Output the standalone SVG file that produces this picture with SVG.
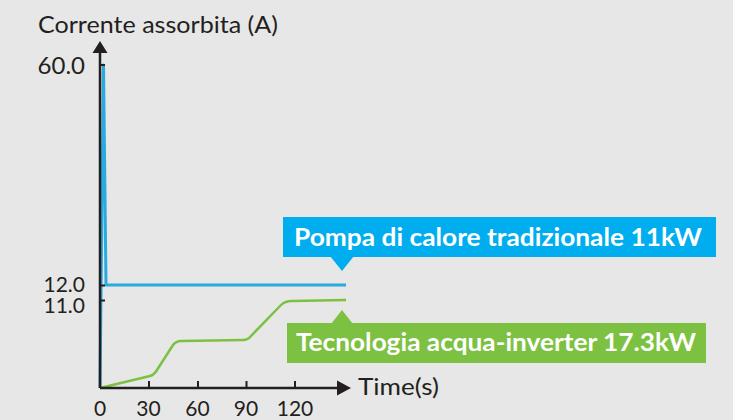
<svg xmlns="http://www.w3.org/2000/svg" width="733" height="420" viewBox="0 0 733 420">
<style>
.t{font-family:Lato,"Noto Sans","Liberation Sans",sans-serif;fill:#231f20;font-size:24px}
.n{font-family:Lato,"Noto Sans","Liberation Sans",sans-serif;fill:#231f20;font-size:21px}
.b{font-family:Lato,"Noto Sans","Liberation Sans",sans-serif;fill:#ffffff;font-size:24px;font-weight:bold}
.ax{stroke:#231f20;stroke-width:2.5;fill:none}
.tk{stroke:#231f20;stroke-width:2;fill:none}
</style>
<rect width="733" height="420" fill="#e6e7e6"/>
<g id="series-blue">
<polyline points="100,388 103.5,65 106,285 346,285" fill="none" stroke="#29abe2" stroke-width="3" stroke-linejoin="round"/>
</g>
<g id="series-green">
<path d="M100,388 L150,376 Q154,375 157,370 L173,345 Q176,341 181,341 L243,340 Q248,340 251,336 L281,305 Q285,301 292,301 L346,300" fill="none" stroke="#7dc142" stroke-width="2.5"/>
</g>
<g id="axes">
<line class="ax" x1="100" y1="388" x2="100" y2="52"/>
<polygon points="92.5,53 107.5,53 100,41" fill="#231f20"/>
<line class="ax" x1="100" y1="388" x2="338" y2="388"/>
<polygon points="337,380.5 337,395.5 351,388" fill="#231f20"/>
<line class="tk" x1="100" y1="65" x2="105" y2="65"/>
<line class="tk" x1="100" y1="285.5" x2="105" y2="285.5"/>
<line class="tk" x1="100" y1="300.5" x2="105" y2="300.5"/>
<line class="tk" x1="149" y1="388" x2="149" y2="381"/>
<line class="tk" x1="198" y1="388" x2="198" y2="381"/>
<line class="tk" x1="246.5" y1="388" x2="246.5" y2="381"/>
<line class="tk" x1="295" y1="388" x2="295" y2="381"/>
</g>
<g id="labels">
<text class="t" x="38" y="33" textLength="240" lengthAdjust="spacingAndGlyphs">Corrente assorbita (A)</text>
<text class="t" x="85" y="74" text-anchor="end">60.0</text>
<text class="n" x="85" y="292" text-anchor="end">12.0</text>
<text class="n" x="85" y="313" text-anchor="end">11.0</text>
<text class="n" x="100" y="416" text-anchor="middle">0</text>
<text class="n" x="148.5" y="416" text-anchor="middle">30</text>
<text class="n" x="197.5" y="416" text-anchor="middle">60</text>
<text class="n" x="246" y="416" text-anchor="middle">90</text>
<text class="n" x="295" y="416" text-anchor="middle">120</text>
<text class="t" x="358" y="395" textLength="81" lengthAdjust="spacingAndGlyphs">Time(s)</text>
</g>
<g id="callout-blue">
<rect x="283" y="217" width="433" height="40" fill="#00aeef"/>
<polygon points="330,256 354,256 342,271" fill="#00aeef"/>
<text class="b" x="294" y="246" textLength="408" lengthAdjust="spacingAndGlyphs">Pompa di calore tradizionale 11kW</text>
</g>
<g id="callout-green">
<rect x="287" y="323" width="419" height="40" fill="#7dc142"/>
<polygon points="331,324 353,324 342,310" fill="#7dc142"/>
<text class="b" x="296" y="351" textLength="400" lengthAdjust="spacingAndGlyphs">Tecnologia acqua-inverter 17.3kW</text>
</g>
</svg>
